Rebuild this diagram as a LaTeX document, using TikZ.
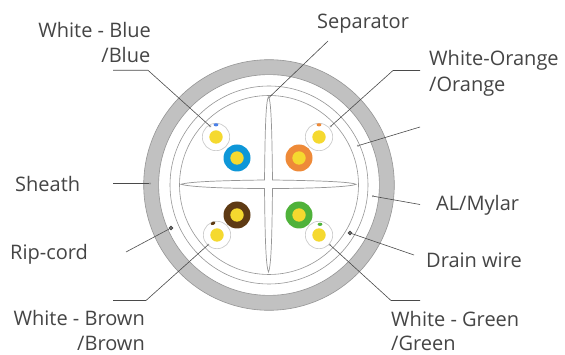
\documentclass[tikz,border=0pt]{standalone}
\usepackage{fontspec}
\setmainfont{Open Sans}
\usetikzlibrary{arrows.meta}
\definecolor{txt}{HTML}{454545}
\definecolor{leader}{HTML}{4A4A4A}
\definecolor{ringline}{HTML}{969696}
\definecolor{sheathfill}{HTML}{C1C1C1}
\definecolor{cyel}{HTML}{F5D92F}
\definecolor{cblue}{HTML}{0E97D8}
\definecolor{corange}{HTML}{EE8A38}
\definecolor{cbrown}{HTML}{5E3A14}
\definecolor{cgreen}{HTML}{4FB23A}
\definecolor{mblue}{HTML}{4A80E8}
\tikzset{
  lbl/.style={inner sep=0pt,text=txt,font=\fontsize{20}{20}\selectfont,anchor=base west},
  lblr/.style={lbl,anchor=base east},
  leaderline/.style={draw=leader,line width=0.6pt,-{Circle[length=2pt,fill=ringline,color=ringline]}},
  ring/.style={draw=ringline,line width=0.6pt},
  whitecore/.style={circle,draw=black!22,line width=0.6pt,fill=white,minimum size=27.4pt,inner sep=0pt},
  yolk/.style={circle,fill=cyel,minimum size=13.4pt,inner sep=0pt},
  solidcore/.style={circle,minimum size=27pt,inner sep=0pt},
  blackdot/.style={circle,draw=black!75,line width=0.8pt,fill=black!45,minimum size=3.4pt,inner sep=0pt},
}
\begin{document}
\begin{tikzpicture}[x=1pt,y=-1pt]
\useasboundingbox (0,0) rectangle (565,355);
\fill[white] (0,0) rectangle (565,355);
% sheath and rings
\fill[sheathfill,even odd rule] (269,185) circle[radius=125.3] (269,185) circle[radius=110.4];
\draw[ring] (269,185) circle[radius=125.3];
\draw[ring] (269,185) circle[radius=110.4];
\draw[ring] (269,185) circle[radius=99];
\draw[ring] (269,185) circle[radius=89.5];
% separator
\draw[draw=ringline,line width=0.7pt,line join=miter]
  (264.5,180) .. controls (265,140) and (265.5,100) .. (268.5,97)
  .. controls (271.5,100) and (272,140) .. (272.5,180)
  .. controls (310,180.5) and (350,181.5) .. (356,184.3)
  .. controls (350,187) and (310,188.5) .. (272.5,188.5)
  .. controls (272,230) and (271.5,265) .. (268.5,272)
  .. controls (265.5,265) and (265,230) .. (264.5,188.5)
  .. controls (225,188.5) and (190,187) .. (181,184.3)
  .. controls (190,181.5) and (225,180.5) .. (264.5,180) -- cycle;
% pairs
\node[whitecore] (wb) at (216,137) {};
\node[yolk] (wby) at (216,137) {};
\fill[mblue] (216,124.8) ellipse[x radius=2.4,y radius=1.6];
\node[solidcore,fill=cblue] (b) at (237,158) {};
\node[yolk] (by) at (237,158) {};
\node[whitecore] (wo) at (319,137) {};
\node[yolk] (woy) at (319,137) {};
\fill[corange] (319,124.8) ellipse[x radius=2.4,y radius=1.6];
\node[solidcore,fill=corange] (o) at (299,158) {};
\node[yolk] (oy) at (299,158) {};
\node[whitecore] (wbr) at (217,235) {};
\node[yolk] (wbry) at (217,235) {};
\fill[cbrown,rotate around={25:(213,223.3)}] (213,223.3) ellipse[x radius=2.4,y radius=1.6];
\node[solidcore,fill=cbrown] (br) at (237,215) {};
\node[yolk] (bry) at (237,215) {};
\node[whitecore] (wg) at (319,235) {};
\node[yolk] (wgy) at (319,235) {};
\fill[cgreen] (320,224.3) ellipse[x radius=2.4,y radius=1.6];
\node[solidcore,fill=cgreen] (g) at (299,215) {};
\node[yolk] (gy) at (299,215) {};
% wires
\node[blackdot] (rip) at (171,228) {};
\node[blackdot] (drain) at (350,233) {};
% labels
\node[lblr] (tWB1) at (151,37.5) {White - Blue};
\node[lblr] (tWB2) at (150.5,63) {/Blue};
\node[lbl] (tSep) at (317,29) {Separator};
\node[lbl] (tWO1) at (429,65.5) {White-Orange};
\node[lbl] (tWO2) at (429,91.5) {/Orange};
\node[lbl] (tSh) at (15,192) {Sheath};
\node[lbl] (tAL) at (436,211) {AL/Mylar};
\node[lbl] (tRip) at (10,260) {Rip-cord};
\node[lbl] (tDr) at (426,268) {Drain wire};
\node[lblr] (tWBr1) at (145,326) {White - Brown};
\node[lblr] (tWBr2) at (145,350) {/Brown};
\node[lbl] (tWG1) at (391,326.5) {White - Green};
\node[lbl] (tWG2) at (391,350) {/Green};
% leader anchors
\coordinate (aWB0) at (113,70.3); \coordinate (aWB1) at (148,70.3); \coordinate (aWB2) at (211,127);
\coordinate (aSep0) at (328,41); \coordinate (aSep1) at (268.5,98);
\coordinate (aWO0) at (420,70.5); \coordinate (aWO1) at (393,70.5); \coordinate (aWO2) at (330,127);
\coordinate (aX0) at (420,127); \coordinate (aX1) at (357,146);
\coordinate (aSh0) at (113,183.5); \coordinate (aSh1) at (151,183.5);
\coordinate (aRip0) at (126,252);
\coordinate (aWBr0) at (113,300.5); \coordinate (aWBr1) at (146,300.5); \coordinate (aWBr2) at (209,244);
\coordinate (aAL0) at (420,204.5); \coordinate (aAL1) at (372,196);
\coordinate (aDr0) at (414,255);
\coordinate (aWG0) at (420,300.5); \coordinate (aWG1) at (391,300.5); \coordinate (aWG2) at (329,244);
% leaders
\draw[leaderline] (aWB0) -- (aWB1) -- (aWB2);
\draw[leaderline] (aSep0) -- (aSep1);
\draw[leaderline] (aWO0) -- (aWO1) -- (aWO2);
\draw[leaderline] (aX0) -- (aX1);
\draw[leaderline] (aSh0) -- (aSh1);
\draw[draw=leader,line width=0.6pt] (aRip0) -- (rip);
\draw[leaderline] (aWBr0) -- (aWBr1) -- (aWBr2);
\draw[leaderline] (aAL0) -- (aAL1);
\draw[draw=leader,line width=0.6pt] (aDr0) -- (drain);
\draw[leaderline] (aWG0) -- (aWG1) -- (aWG2);
\end{tikzpicture}
\end{document}
